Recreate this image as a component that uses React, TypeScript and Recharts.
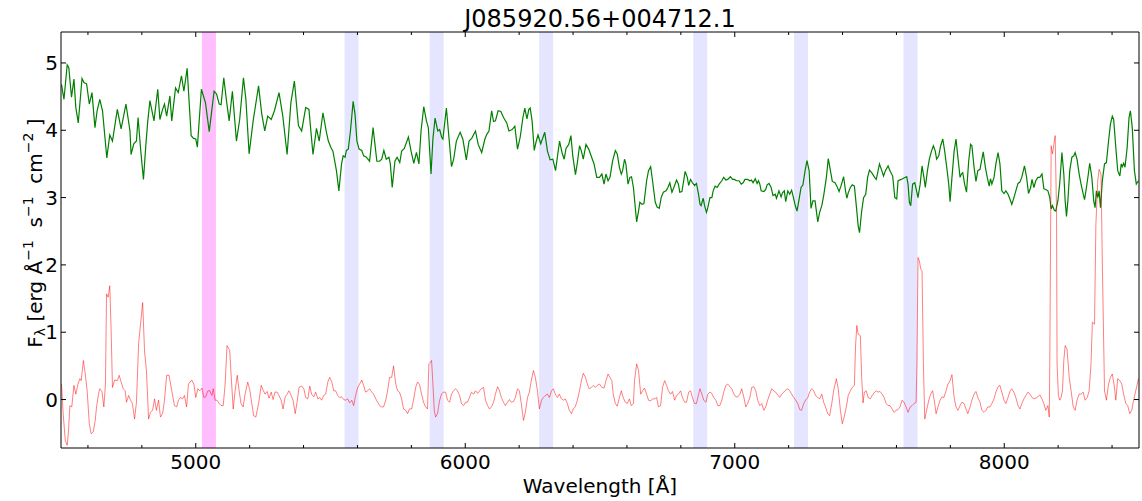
import { ComposedChart, Line, XAxis, YAxis, ReferenceArea } from 'recharts';

const title = 'J085920.56+004712.1';

// wavelength (Å), flux — smoothed spectrum
const greenSpectrum: [number, number][] = [
  [4502, 4.68], [4511, 4.46], [4523, 4.97], [4529, 4.93], [4539, 4.49], [4548, 4.76], [4555, 4.34], [4564, 4.11],
  [4578, 4.77], [4585, 4.71], [4595, 4.69], [4605, 4.39], [4615, 4.56], [4626, 4.04], [4634, 4.29], [4644, 4.46],
  [4654, 4.29], [4670, 3.59], [4681, 3.93], [4691, 3.84], [4709, 4.31], [4723, 4.02], [4741, 4.39], [4756, 3.99],
  [4760, 3.64], [4770, 3.8], [4780, 3.84], [4786, 4.19], [4795, 3.74], [4800, 3.52], [4806, 3.27], [4815, 3.79],
  [4822, 4.14], [4830, 4.44], [4845, 4.14], [4859, 4.61], [4867, 4.16], [4877, 4.31], [4884, 4.39], [4892, 4.21],
  [4904, 4.51], [4911, 4.14], [4925, 4.63], [4935, 4.56], [4947, 4.81], [4956, 4.58], [4968, 4.92], [4983, 3.92],
  [4992, 3.88], [5000, 3.87], [5006, 3.75], [5021, 4.61], [5036, 4.41], [5050, 3.98], [5060, 4.31], [5068, 4.58],
  [5077, 4.54], [5087, 4.39], [5094, 4.38], [5104, 4.78], [5114, 4.44], [5124, 4.14], [5136, 4.58], [5151, 3.84],
  [5163, 4.16], [5177, 4.78], [5186, 4.46], [5198, 3.65], [5213, 4.14], [5233, 4.66], [5245, 4.24], [5256, 3.99],
  [5267, 4.21], [5280, 4.16], [5292, 4.29], [5309, 4.56], [5323, 4.21], [5339, 3.64], [5353, 4.41], [5366, 4.73],
  [5381, 4.07], [5393, 3.99], [5408, 4.34], [5420, 4.31], [5435, 3.64], [5448, 4.03], [5458, 3.84], [5472, 4.26],
  [5485, 3.97], [5492, 3.84], [5502, 3.74], [5509, 3.69], [5522, 3.4], [5531, 3.1], [5541, 3.5], [5547, 3.62],
  [5554, 3.6], [5559, 3.7], [5566, 3.72], [5574, 3.99], [5584, 4.43], [5591, 4.24], [5598, 3.84], [5606, 3.72],
  [5616, 3.7], [5623, 3.62], [5633, 3.6], [5645, 3.54], [5658, 4.04], [5665, 3.79], [5672, 3.54], [5682, 3.54],
  [5690, 3.57], [5698, 3.7], [5707, 3.57], [5717, 3.6], [5722, 3.5], [5729, 3.15], [5739, 3.54], [5747, 3.6],
  [5757, 3.52], [5764, 3.69], [5774, 3.73], [5789, 3.9], [5799, 3.69], [5809, 3.51], [5819, 3.67], [5828, 3.5],
  [5836, 3.99], [5846, 4.35], [5856, 4.14], [5863, 4.04], [5873, 3.35], [5880, 3.87], [5888, 4.18], [5898, 3.99],
  [5905, 4.01], [5912, 3.9], [5917, 3.87], [5930, 4.33], [5940, 3.87], [5949, 3.46], [5957, 3.57], [5967, 3.84],
  [5981, 3.97], [5991, 3.87], [6004, 3.56], [6014, 3.84], [6024, 3.88], [6038, 3.99], [6048, 3.79], [6061, 3.67],
  [6073, 3.87], [6080, 3.94], [6088, 3.99], [6098, 4.29], [6105, 4.13], [6112, 4.14], [6122, 4.29], [6132, 4.28],
  [6142, 4.19], [6154, 4.11], [6162, 3.99], [6174, 4.01], [6184, 4.06], [6194, 3.72], [6204, 3.9], [6214, 4.19],
  [6221, 4.33], [6229, 4.17], [6236, 4.31], [6241, 4.33], [6248, 4.14], [6256, 3.7], [6263, 3.83], [6270, 3.93],
  [6280, 3.8], [6295, 3.97], [6305, 3.69], [6315, 3.56], [6325, 3.57], [6335, 3.4], [6350, 3.84], [6359, 3.67],
  [6367, 3.57], [6374, 3.73], [6384, 3.79], [6392, 3.92], [6399, 3.62], [6409, 3.34], [6416, 3.52], [6424, 3.77],
  [6431, 3.69], [6438, 3.57], [6448, 3.79], [6458, 3.72], [6468, 3.61], [6478, 3.5], [6488, 3.3], [6498, 3.3],
  [6507, 3.35], [6515, 3.2], [6522, 3.35], [6530, 3.25], [6537, 3.3], [6547, 3.55], [6557, 3.7], [6564, 3.65],
  [6572, 3.45], [6579, 3.35], [6584, 3.4], [6591, 3.57], [6596, 3.5], [6604, 3.2], [6611, 3.3], [6617, 3.31],
  [6624, 3.15], [6631, 2.85], [6636, 2.64], [6643, 2.8], [6648, 2.93], [6656, 2.9], [6663, 2.91], [6673, 3.25],
  [6680, 3.4], [6688, 3.46], [6695, 3.25], [6705, 2.93], [6712, 2.86], [6720, 2.84], [6727, 3.0], [6735, 3.08],
  [6745, 3.1], [6752, 3.15], [6759, 3.22], [6767, 3.08], [6774, 3.15], [6784, 3.26], [6791, 3.2], [6796, 3.08],
  [6804, 3.09], [6816, 3.39], [6824, 3.3], [6829, 3.18], [6836, 3.27], [6843, 3.22], [6851, 3.18], [6858, 3.21],
  [6866, 3.04], [6871, 2.9], [6875, 2.88], [6883, 2.99], [6888, 2.88], [6895, 2.78], [6900, 2.85], [6908, 3.0],
  [6915, 3.0], [6920, 3.1], [6927, 3.17], [6935, 3.15], [6942, 3.2], [6952, 3.25], [6959, 3.3], [6967, 3.26],
  [6974, 3.27], [6984, 3.31], [6992, 3.27], [6999, 3.27], [7006, 3.25], [7016, 3.25], [7024, 3.2], [7031, 3.22],
  [7038, 3.27], [7048, 3.27], [7056, 3.25], [7062, 3.26], [7068, 3.22], [7076, 3.28], [7083, 3.21], [7088, 3.25],
  [7093, 3.2], [7098, 3.1], [7108, 3.09], [7115, 3.12], [7120, 3.19], [7127, 3.21], [7135, 3.15], [7142, 3.03],
  [7150, 3.05], [7155, 2.99], [7164, 3.1], [7172, 3.01], [7177, 3.07], [7184, 3.1], [7189, 2.94], [7197, 3.1],
  [7204, 3.05], [7211, 3.11], [7216, 3.03], [7224, 2.89], [7231, 2.8], [7239, 2.98], [7246, 3.15], [7253, 3.19],
  [7261, 3.4], [7268, 3.55], [7276, 3.4], [7283, 2.84], [7290, 2.95], [7298, 2.95], [7308, 2.64], [7315, 2.78],
  [7323, 2.88], [7330, 3.03], [7340, 3.3], [7347, 3.58], [7355, 3.4], [7362, 3.24], [7372, 3.22], [7379, 3.17],
  [7387, 3.09], [7394, 3.17], [7404, 3.31], [7411, 3.1], [7416, 2.99], [7421, 3.07], [7429, 3.15], [7436, 3.19],
  [7444, 3.17], [7451, 2.88], [7458, 2.58], [7463, 2.48], [7471, 2.8], [7478, 3.0], [7486, 3.05], [7493, 3.3],
  [7500, 3.41], [7510, 3.36], [7519, 3.3], [7525, 3.27], [7532, 3.4], [7537, 3.5], [7544, 3.42], [7552, 3.32],
  [7559, 3.4], [7569, 3.47], [7576, 3.4], [7586, 3.32], [7594, 3.0], [7601, 2.98], [7606, 3.25], [7618, 3.27],
  [7628, 3.29], [7638, 3.31], [7643, 3.2], [7648, 2.93], [7653, 2.88], [7660, 3.2], [7668, 3.22], [7673, 3.13],
  [7680, 3.0], [7688, 3.2], [7695, 3.47], [7702, 3.3], [7707, 3.15], [7715, 3.4], [7722, 3.57], [7730, 3.69],
  [7737, 3.77], [7744, 3.69], [7749, 3.57], [7757, 3.62], [7764, 3.77], [7772, 3.87], [7779, 3.69], [7786, 3.47],
  [7794, 3.2], [7799, 2.94], [7806, 3.3], [7814, 3.69], [7821, 3.87], [7828, 3.6], [7836, 3.3], [7841, 3.35],
  [7846, 3.37], [7853, 3.2], [7860, 3.08], [7868, 3.54], [7875, 3.79], [7880, 3.77], [7888, 3.45], [7895, 3.24],
  [7902, 3.4], [7910, 3.42], [7917, 3.57], [7922, 3.68], [7930, 3.45], [7937, 3.3], [7944, 3.17], [7949, 3.28],
  [7954, 3.2], [7962, 3.3], [7969, 3.5], [7977, 3.67], [7984, 3.5], [7991, 3.1], [7999, 3.06], [8006, 3.1],
  [8014, 3.05], [8021, 2.98], [8028, 2.9], [8036, 3.0], [8043, 3.1], [8051, 3.21], [8058, 3.23], [8065, 3.3],
  [8075, 3.47], [8083, 3.3], [8090, 3.06], [8098, 3.15], [8103, 3.27], [8110, 3.15], [8117, 3.25], [8125, 3.3],
  [8132, 3.3], [8140, 3.35], [8147, 3.13], [8154, 3.12], [8162, 3.1], [8169, 3.0], [8174, 2.83], [8179, 2.88],
  [8186, 2.81], [8191, 2.8], [8199, 2.95], [8206, 3.22], [8214, 3.67], [8221, 3.35], [8226, 2.95], [8231, 2.72],
  [8236, 2.95], [8243, 3.4], [8251, 3.6], [8258, 3.62], [8263, 3.67], [8270, 3.57], [8278, 3.35], [8285, 3.2],
  [8293, 3.05], [8298, 2.97], [8305, 3.15], [8312, 3.35], [8317, 3.51], [8325, 3.3], [8332, 2.95], [8337, 2.85],
  [8342, 3.1], [8347, 3.0], [8352, 3.1], [8357, 2.85], [8364, 3.25], [8372, 3.5], [8379, 3.52], [8387, 3.84],
  [8394, 4.09], [8401, 4.21], [8406, 4.16], [8414, 3.74], [8421, 3.4], [8429, 3.32], [8434, 3.5], [8438, 3.46],
  [8443, 3.51], [8448, 3.45], [8456, 3.74], [8463, 4.19], [8468, 4.29], [8475, 4.04], [8483, 3.4], [8490, 3.2],
  [8498, 3.25],
];

// wavelength (Å), flux — residual
const redResidual: [number, number][] = [
  [4502, 0.23], [4508, -0.21], [4516, -0.61], [4523, -0.68], [4528, -0.46], [4533, -0.09], [4540, -0.11], [4548, 0.21],
  [4555, 0.08], [4563, 0.23], [4570, 0.31], [4575, 0.28], [4583, 0.58], [4590, 0.38], [4597, 0.13], [4605, -0.36],
  [4612, -0.51], [4620, -0.48], [4627, -0.31], [4632, -0.11], [4639, 0.08], [4644, 0.16], [4652, 0.12], [4659, -0.11],
  [4665, 0.23], [4669, 1.57], [4675, 1.52], [4681, 1.69], [4686, 1.02], [4691, 0.18], [4699, 0.29], [4709, 0.28],
  [4716, 0.36], [4723, 0.26], [4731, 0.16], [4738, 0.13], [4743, -0.04], [4751, 0.06], [4758, -0.01], [4765, -0.06],
  [4773, -0.29], [4780, -0.04], [4788, 0.83], [4795, 1.12], [4803, 1.44], [4810, 0.72], [4817, 0.43], [4825, -0.29],
  [4832, -0.19], [4840, -0.16], [4847, 0.01], [4854, -0.16], [4862, -0.01], [4869, -0.26], [4877, -0.21], [4884, -0.01],
  [4892, 0.36], [4901, 0.36], [4911, 0.13], [4921, -0.09], [4929, -0.11], [4936, -0.01], [4943, 0.03], [4951, 0.01],
  [4958, 0.06], [4966, -0.11], [4973, 0.23], [4985, 0.29], [4993, 0.23], [5000, 0.03], [5008, 0.16], [5015, 0.13],
  [5023, 0.17], [5030, 0.03], [5037, 0.04], [5045, 0.13], [5052, 0.13], [5060, 0.06], [5065, 0.16], [5072, -0.01],
  [5079, -0.01], [5087, -0.06], [5094, -0.09], [5102, -0.09], [5109, 0.23], [5116, 0.8], [5126, 0.73], [5131, 0.38],
  [5139, -0.14], [5146, 0.13], [5154, 0.36], [5161, 0.13], [5168, -0.06], [5176, -0.11], [5183, 0.08], [5193, 0.26],
  [5201, 0.13], [5208, -0.06], [5215, -0.24], [5223, -0.26], [5233, -0.06], [5243, 0.21], [5250, 0.14], [5257, 0.08],
  [5265, 0.12], [5272, 0.02], [5280, 0.11], [5287, 0.0], [5294, 0.11], [5302, 0.11], [5309, 0.06], [5317, -0.01],
  [5324, -0.14], [5332, 0.04], [5339, 0.08], [5346, 0.13], [5354, 0.06], [5361, -0.01], [5369, -0.21], [5376, -0.04],
  [5383, 0.18], [5393, 0.2], [5401, 0.16], [5408, 0.03], [5416, 0.01], [5423, 0.2], [5430, 0.08], [5438, 0.04],
  [5445, 0.11], [5453, 0.01], [5460, 0.03], [5467, -0.01], [5475, 0.06], [5482, 0.08], [5490, 0.26], [5497, 0.33],
  [5505, 0.26], [5512, 0.13], [5519, 0.13], [5527, 0.06], [5534, 0.03], [5541, 0.04], [5549, 0.0], [5556, -0.01],
  [5564, 0.01], [5571, -0.05], [5579, -0.01], [5586, -0.09], [5593, 0.06], [5601, 0.18], [5608, 0.23], [5616, 0.29],
  [5623, 0.21], [5630, 0.11], [5638, 0.13], [5645, 0.16], [5653, 0.11], [5660, 0.08], [5668, 0.01], [5675, -0.04],
  [5682, -0.09], [5690, -0.11], [5697, -0.11], [5705, -0.01], [5712, 0.13], [5719, 0.33], [5727, 0.33], [5734, 0.5],
  [5742, 0.23], [5749, 0.13], [5756, 0.11], [5764, 0.01], [5771, -0.14], [5779, -0.16], [5786, -0.21], [5793, -0.14],
  [5801, -0.14], [5808, -0.01], [5816, 0.18], [5823, 0.26], [5830, 0.23], [5838, 0.08], [5845, -0.04], [5853, -0.11],
  [5860, -0.14], [5865, 0.53], [5870, 0.55], [5875, 0.58], [5880, 0.23], [5885, -0.16], [5890, -0.26], [5897, -0.21],
  [5905, -0.01], [5912, 0.08], [5919, 0.11], [5927, 0.11], [5934, -0.01], [5942, -0.04], [5949, 0.08], [5956, 0.13],
  [5964, 0.16], [5971, 0.13], [5979, 0.06], [5986, -0.06], [5994, -0.09], [6001, -0.04], [6008, -0.04], [6016, 0.03],
  [6023, 0.11], [6031, 0.08], [6038, 0.13], [6046, 0.09], [6053, 0.13], [6060, 0.16], [6068, 0.18], [6075, -0.01],
  [6083, -0.09], [6090, -0.14], [6097, -0.11], [6105, -0.04], [6112, 0.08], [6120, 0.19], [6127, 0.13], [6134, 0.03],
  [6142, -0.04], [6149, -0.09], [6157, -0.04], [6164, 0.0], [6171, -0.04], [6179, -0.03], [6186, 0.03], [6194, 0.16],
  [6201, 0.13], [6208, -0.06], [6216, -0.31], [6223, -0.19], [6231, 0.03], [6238, 0.11], [6245, 0.28], [6253, 0.43],
  [6260, 0.33], [6268, 0.13], [6275, -0.14], [6283, -0.01], [6290, 0.03], [6297, 0.06], [6305, 0.08], [6312, 0.03],
  [6320, 0.13], [6327, 0.16], [6334, 0.08], [6342, 0.03], [6349, 0.08], [6357, 0.01], [6364, -0.01], [6371, 0.01],
  [6379, -0.06], [6386, -0.16], [6394, -0.21], [6401, -0.14], [6408, -0.11], [6416, -0.01], [6424, 0.13], [6431, 0.28],
  [6438, 0.39], [6446, 0.33], [6453, 0.23], [6460, 0.16], [6468, 0.18], [6475, 0.21], [6483, 0.18], [6490, 0.21],
  [6498, 0.23], [6507, 0.18], [6515, 0.17], [6522, 0.28], [6530, 0.38], [6537, 0.33], [6544, 0.28], [6549, 0.08],
  [6557, -0.06], [6564, -0.1], [6572, 0.03], [6579, 0.13], [6586, 0.03], [6594, -0.04], [6601, -0.06], [6609, 0.01],
  [6616, -0.09], [6624, -0.06], [6628, 0.28], [6636, 0.53], [6643, 0.43], [6651, 0.08], [6658, 0.13], [6665, 0.17],
  [6673, 0.08], [6680, -0.01], [6688, -0.02], [6695, 0.01], [6703, 0.01], [6710, 0.03], [6717, -0.11], [6725, -0.09],
  [6732, 0.18], [6740, 0.28], [6747, 0.21], [6754, 0.13], [6762, 0.08], [6769, 0.12], [6777, -0.01], [6784, 0.06],
  [6791, 0.08], [6799, 0.13], [6806, 0.03], [6814, -0.04], [6821, -0.04], [6829, 0.11], [6836, 0.13], [6843, 0.03],
  [6851, -0.06], [6858, -0.06], [6866, 0.08], [6871, 0.16], [6878, 0.08], [6885, -0.01], [6893, -0.04], [6900, 0.08],
  [6908, 0.11], [6915, 0.09], [6922, 0.03], [6930, -0.01], [6937, -0.09], [6945, -0.09], [6952, -0.01], [6959, 0.11],
  [6967, 0.21], [6974, 0.23], [6982, 0.19], [6989, 0.16], [6996, 0.09], [7004, 0.04], [7011, 0.04], [7019, 0.08],
  [7026, 0.16], [7034, 0.03], [7041, -0.11], [7048, -0.06], [7056, 0.03], [7063, 0.18], [7071, 0.19], [7078, 0.13],
  [7085, -0.01], [7093, -0.09], [7100, -0.06], [7108, -0.16], [7115, -0.11], [7122, -0.01], [7130, 0.08], [7137, 0.16],
  [7145, 0.13], [7152, 0.11], [7159, 0.07], [7167, 0.03], [7174, 0.08], [7182, 0.11], [7189, 0.14], [7197, 0.16],
  [7204, 0.13], [7211, 0.08], [7219, 0.03], [7226, -0.01], [7234, -0.06], [7241, -0.15], [7248, -0.16], [7256, -0.06],
  [7263, -0.01], [7271, 0.03], [7278, 0.11], [7285, 0.16], [7293, 0.13], [7300, 0.06], [7308, 0.03], [7315, 0.01],
  [7323, 0.08], [7330, -0.04], [7337, -0.11], [7345, -0.21], [7352, -0.24], [7360, -0.06], [7367, 0.13], [7377, 0.31],
  [7384, 0.16], [7392, -0.16], [7399, -0.36], [7406, -0.26], [7414, -0.11], [7421, 0.06], [7429, 0.13], [7436, 0.18],
  [7444, 0.21], [7448, 0.78], [7453, 1.1], [7458, 0.97], [7466, 0.95], [7471, 0.33], [7476, -0.05], [7481, 0.11],
  [7488, 0.13], [7495, 0.03], [7503, 0.01], [7510, 0.06], [7519, 0.11], [7525, 0.13], [7532, 0.11], [7539, 0.12],
  [7547, 0.08], [7554, 0.03], [7562, -0.06], [7569, -0.09], [7576, -0.09], [7584, -0.14], [7591, -0.19], [7599, -0.16],
  [7606, -0.15], [7613, -0.11], [7621, -0.01], [7628, -0.04], [7636, -0.11], [7643, -0.19], [7651, -0.11], [7658, -0.09],
  [7665, -0.06], [7673, -0.04], [7676, 0.53], [7680, 2.11], [7685, 2.06], [7690, 1.94], [7695, 1.91], [7700, 0.53],
  [7705, -0.29], [7712, -0.16], [7720, -0.01], [7727, 0.08], [7734, 0.13], [7742, -0.06], [7747, -0.21], [7754, -0.11],
  [7762, -0.01], [7769, 0.04], [7776, 0.03], [7784, 0.13], [7791, 0.23], [7799, 0.28], [7806, 0.37], [7814, 0.03],
  [7821, -0.11], [7828, -0.16], [7836, -0.09], [7843, -0.04], [7851, -0.06], [7858, -0.14], [7865, -0.21], [7873, -0.11],
  [7880, -0.01], [7888, 0.08], [7895, 0.12], [7902, 0.03], [7910, -0.04], [7917, -0.16], [7925, -0.19], [7932, -0.16],
  [7939, -0.11], [7947, -0.11], [7954, -0.06], [7962, 0.01], [7969, 0.11], [7977, 0.19], [7984, 0.21], [7991, 0.11],
  [7999, -0.01], [8006, -0.06], [8014, 0.03], [8021, 0.12], [8028, 0.16], [8036, 0.11], [8043, 0.03], [8051, -0.09],
  [8058, -0.14], [8065, -0.06], [8073, 0.01], [8080, 0.06], [8088, 0.11], [8095, 0.08], [8103, 0.03], [8110, 0.01],
  [8117, 0.02], [8125, 0.04], [8132, 0.07], [8140, 0.01], [8147, -0.06], [8154, -0.16], [8162, -0.09], [8167, -0.26],
  [8169, 0.53], [8174, 3.77], [8179, 3.65], [8184, 3.79], [8189, 3.92], [8194, 2.78], [8196, 0.53], [8201, 0.06],
  [8206, -0.01], [8211, 0.03], [8216, 0.13], [8221, 0.58], [8226, 0.8], [8233, 0.75], [8241, 0.33], [8248, 0.13],
  [8256, -0.11], [8263, -0.16], [8270, -0.01], [8278, 0.08], [8285, 0.08], [8293, 0.11], [8300, -0.01], [8308, 0.03],
  [8315, 0.13], [8322, 0.53], [8327, 1.15], [8335, 1.12], [8340, 2.6], [8347, 3.25], [8352, 3.42], [8359, 3.35],
  [8364, 2.01], [8372, 0.13], [8379, -0.01], [8387, 0.23], [8394, 0.33], [8401, 0.38], [8409, 0.18], [8414, -0.01],
  [8421, 0.31], [8429, 0.28], [8436, 0.23], [8443, 0.08], [8451, -0.06], [8458, -0.09], [8466, -0.21], [8473, -0.16],
  [8480, -0.01], [8488, 0.13], [8498, 0.31],
];

const skyBands = [5578, 5894, 6300, 6872, 7246, 7652];
const lineBands = [5049];
const bandWidth = 52;

const xTicks = [4600, 4800, 5000, 5200, 5400, 5600, 5800, 6000, 6200, 6400, 6600, 6800, 7000, 7200, 7400, 7600, 7800, 8000, 8200, 8400];
const yTicks = [0, 1, 2, 3, 4, 5];

const greenData = greenSpectrum.map(([w, f]) => ({ w, f }));
const redData = redResidual.map(([w, f]) => ({ w, f }));

const isMajor = (v: number) => v % 1000 === 0;

const BottomTick = ({ x, y, payload }: any) => (
  <g>
    <line x1={x} x2={x} y1={y} y2={y - (isMajor(payload.value) ? 5 : 3)} stroke="#000" />
    {isMajor(payload.value) && (
      <text x={x} y={y + 21} textAnchor="middle" fontSize={20} fill="#000">
        {payload.value}
      </text>
    )}
  </g>
);

const TopTick = ({ x, y, payload }: any) => (
  <line x1={x} x2={x} y1={y} y2={y + (isMajor(payload.value) ? 5 : 3)} stroke="#000" />
);

const LeftTick = ({ x, y, payload }: any) => (
  <g>
    <line x1={x} x2={x + 5} y1={y} y2={y} stroke="#000" />
    <text x={x - 3} y={y + 7} textAnchor="end" fontSize={20} fill="#000">
      {payload.value}
    </text>
  </g>
);

const RightTick = ({ x, y }: any) => <line x1={x - 5} x2={x} y1={y} y2={y} stroke="#000" />;

const App = () => {
  return (
    <div style={{ position: 'absolute', left: 0, top: 0, width: 1142, height: 501, background: '#fff', fontFamily: 'DejaVu Sans' }}>
      <ComposedChart width={1142} height={501} margin={{ top: 31, right: 2, bottom: 52, left: 60 }}>
        <XAxis
          xAxisId="b"
          dataKey="w"
          type="number"
          domain={[4500, 8500]}
          allowDataOverflow
          ticks={xTicks}
          interval={0}
          height={1}
          tickSize={0}
          tickMargin={0}
          tickLine={false}
          tick={<BottomTick />}
          axisLine={{ stroke: '#000' }}
        />
        <XAxis
          xAxisId="t"
          orientation="top"
          dataKey="w"
          type="number"
          domain={[4500, 8500]}
          allowDataOverflow
          ticks={xTicks}
          interval={0}
          height={1}
          tickSize={0}
          tickMargin={0}
          tickLine={false}
          tick={<TopTick />}
          axisLine={{ stroke: '#000' }}
        />
        <YAxis
          yAxisId="l"
          type="number"
          domain={[-0.72, 5.46]}
          allowDataOverflow
          ticks={yTicks}
          interval={0}
          width={1}
          tickSize={0}
          tickMargin={0}
          tickLine={false}
          tick={<LeftTick />}
          axisLine={{ stroke: '#000' }}
        />
        <YAxis
          yAxisId="r"
          orientation="right"
          type="number"
          domain={[-0.72, 5.46]}
          allowDataOverflow
          ticks={yTicks}
          interval={0}
          width={1}
          tickSize={0}
          tickMargin={0}
          tickLine={false}
          tick={<RightTick />}
          axisLine={{ stroke: '#000' }}
        />
        {lineBands.map((c) => (
          <ReferenceArea key={'m' + c} xAxisId="b" yAxisId="l" x1={c - bandWidth / 2} x2={c + bandWidth / 2} fill="#ff00ff" fillOpacity={0.25} stroke="none" />
        ))}
        {skyBands.map((c) => (
          <ReferenceArea key={'s' + c} xAxisId="b" yAxisId="l" x1={c - bandWidth / 2} x2={c + bandWidth / 2} fill="#0000ff" fillOpacity={0.1} stroke="none" />
        ))}
        <Line xAxisId="b" yAxisId="l" data={greenData} dataKey="f" type="linear" stroke="#008000" strokeWidth={1.2} dot={false} isAnimationActive={false} />
        <Line xAxisId="b" yAxisId="l" data={redData} dataKey="f" type="linear" stroke="#ff0000" strokeOpacity={0.5} strokeWidth={1} dot={false} isAnimationActive={false} />
      </ComposedChart>
      <svg width={1142} height={501} style={{ position: 'absolute', left: 0, top: 0, pointerEvents: 'none' }}>
        <text x={600} y={27} textAnchor="middle" fontSize={24} fill="#000">
          {title}
        </text>
        <text x={600} y={493} textAnchor="middle" fontSize={20} fill="#000">
          Wavelength [Å]
        </text>
        <text transform="translate(42,233) rotate(-90)" textAnchor="middle" fontSize={20} fill="#000">
          F<tspan fontSize={14} dy={3}>λ</tspan>
          <tspan dy={-3}> [erg Å</tspan>
          <tspan fontSize={14} dy={-9}>−1</tspan>
          <tspan dy={9}>{'\u00a0\u00a0s'}</tspan>
          <tspan fontSize={14} dy={-9}>−1</tspan>
          <tspan dy={9}>{'\u00a0\u00a0cm'}</tspan>
          <tspan fontSize={14} dy={-9}>−2</tspan>
          <tspan dy={9}>{'\u00a0]'}</tspan>
        </text>
      </svg>
    </div>
  );
};

export default App;
